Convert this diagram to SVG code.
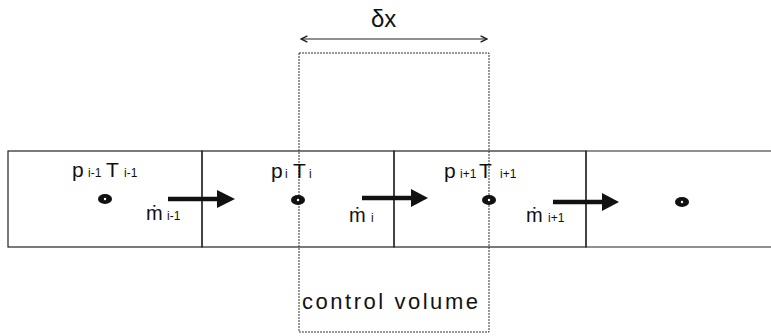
<svg xmlns="http://www.w3.org/2000/svg" width="771" height="336" viewBox="0 0 771 336">
<style>
.cell{fill:none;stroke:#222;stroke-width:1.2}
.cv{fill:none;stroke:#333;stroke-width:1;stroke-dasharray:2 1}
.t{font-family:"Liberation Sans",Arial,sans-serif;fill:#111}
.big{font-size:21px}
.sub{font-size:12px}
.m{font-size:20px}
.dot{fill:#111}
.hole{fill:#fff}
.flow{stroke:#111;stroke-width:4.5;fill:none}
.head{fill:#111}
.dim{stroke:#222;stroke-width:1.2;fill:none}
</style>
<defs>
<marker id="chev" viewBox="0 0 10 10" refX="9" refY="5" markerWidth="8" markerHeight="8" orient="auto-start-reverse" markerUnits="userSpaceOnUse">
<path d="M1,1 L9,5 L1,9" fill="none" stroke="#222" stroke-width="1.8"/>
</marker>
</defs>
<rect width="771" height="336" fill="#fff"/>
<g id="cell1"><rect class="cell" x="8" y="151" width="194" height="96"/></g>
<g id="cell2"><rect class="cell" x="202" y="151" width="192" height="96"/></g>
<g id="cell3"><rect class="cell" x="394" y="151" width="192" height="96"/></g>
<g id="cell4"><path class="cell" d="M771,151 H586 V247 H771"/></g>
<g id="control-volume">
<rect class="cv" x="299" y="53" width="190" height="279"/>
<text class="t" x="302" y="309" font-size="22" textLength="176" lengthAdjust="spacing">control volume</text>
</g>
<g id="delta-x">
<text class="t" x="371" y="27" font-size="24">δx</text>
</g>
<g id="node-i-1">
<ellipse class="dot" cx="105" cy="199" rx="7" ry="5"/><circle class="hole" cx="105" cy="199" r="1.2"/>
<text class="t big" x="72" y="177">p</text><text class="t sub" x="88" y="177">i-1</text>
<text class="t big" x="106" y="177">T</text><text class="t sub" x="124" y="177">i-1</text>
</g>
<g id="node-i">
<ellipse class="dot" cx="298" cy="200" rx="7" ry="5"/><circle class="hole" cx="298" cy="200" r="1.2"/>
<text class="t big" x="271" y="178">p</text><text class="t sub" x="285" y="178">i</text>
<text class="t big" x="293" y="178">T</text><text class="t sub" x="309" y="178">i</text>
</g>
<g id="node-i+1">
<ellipse class="dot" cx="489" cy="200" rx="7" ry="5"/><circle class="hole" cx="489" cy="200" r="1.2"/>
<text class="t big" x="444" y="178">p</text><text class="t sub" x="460" y="178">i+1</text>
<text class="t big" x="479" y="178">T</text><text class="t sub" x="500" y="178">i+1</text>
</g>
<g id="node-i+2">
<ellipse class="dot" cx="682" cy="202" rx="7" ry="5"/><circle class="hole" cx="682" cy="202" r="1.2"/>
</g>
<g id="connectors">
<line class="dim" x1="301" y1="39" x2="487" y2="39" marker-start="url(#chev)" marker-end="url(#chev)"/>
<line class="flow" x1="168" y1="199" x2="219" y2="199"/><path class="head" d="M217,190 L235,199 L217,208 Z"/>
<line class="flow" x1="362" y1="198" x2="413" y2="198"/><path class="head" d="M411,189 L428,198 L411,207 Z"/>
<line class="flow" x1="553" y1="202" x2="604" y2="202"/><path class="head" d="M602,193 L619,202 L602,211 Z"/>
</g>
<g id="flow-labels">
<text class="t m" x="146" y="220">ṁ</text><text class="t sub" x="167" y="220">i-1</text>
<text class="t m" x="349" y="222">ṁ</text><text class="t sub" x="371" y="222">i</text>
<text class="t m" x="526" y="222">ṁ</text><text class="t sub" x="548" y="222">i+1</text>
</g>
</svg>
